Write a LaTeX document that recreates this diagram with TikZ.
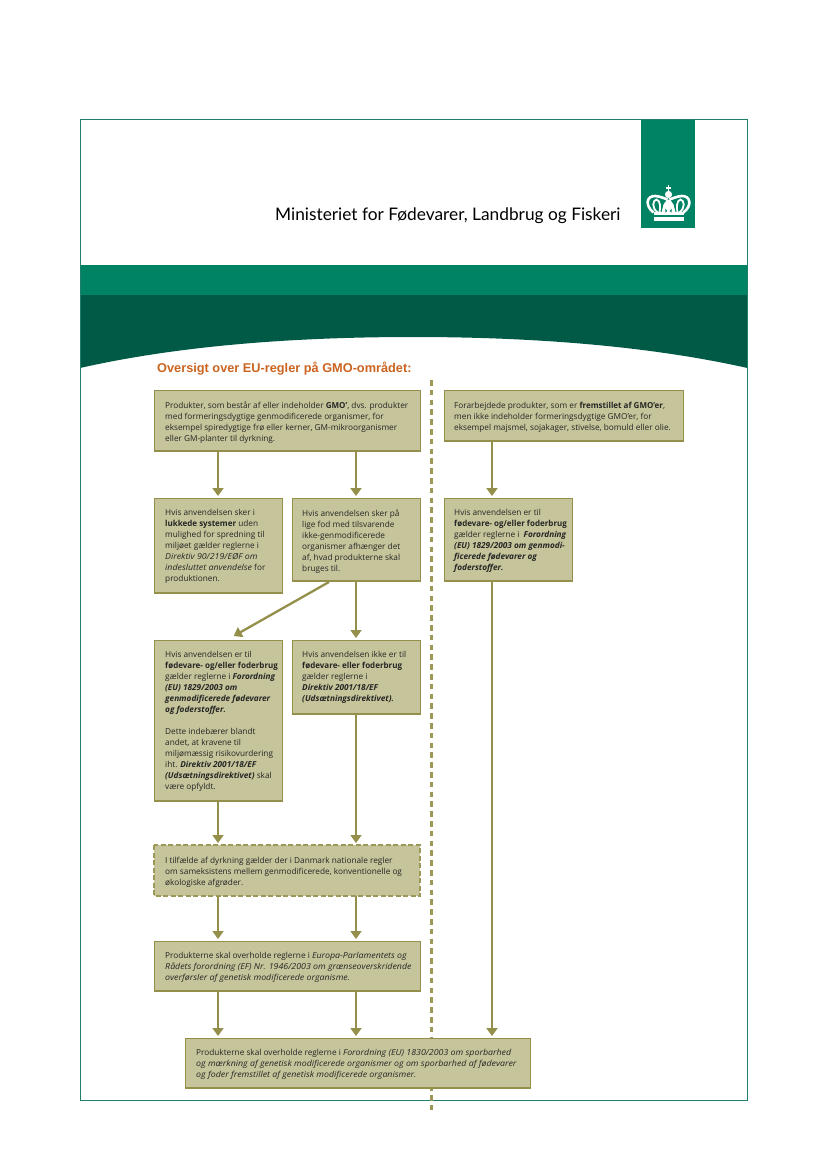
\documentclass[tikz,border=0pt]{standalone}
\usepackage{fontspec}
\setmainfont{Open Sans}[ItalicFeatures={FakeStretch=1.07},BoldFeatures={FakeStretch=0.97}]
\newfontfamily\logofont{Lato}
\newfontfamily\titlefont{Liberation Sans}
\usetikzlibrary{arrows.meta}
\definecolor{frameteal}{HTML}{1F7F6B}
\definecolor{bandgreen}{HTML}{008264}
\definecolor{darkgreen}{HTML}{005A46}
\definecolor{boxfill}{HTML}{C5C49A}
\definecolor{boxedge}{HTML}{948F4B}
\definecolor{dashedge}{HTML}{9C9858}
\definecolor{titleorange}{HTML}{CB6420}
\tikzset{x=1pt,y=-1pt,
 flow/.style={boxedge,line width=1.8pt,-{Triangle[length=8pt,width=11pt]},shorten >=2pt},
 flowthick/.style={flow,line width=2.3pt},
 boxtext/.style={anchor=north west,inner sep=0pt,align=left,font=\fontsize{8.25}{11}\selectfont,text=black!85},
}
\newcommand{\bx}[5]{% name x0 y0 x1 y1
 \fill[boxfill] (#2,#3) rectangle (#4,#5);
 \draw[boxedge,line width=.9pt] (#2,#5) -- (#2,#3) -- (#4,#3) -- (#4,#5);
 \draw[boxedge,line width=2.2pt] (#2-.4,#5-1) -- (#4+.4,#5-1);
 \coordinate (#1n) at ({(#2+#4)/2},#3);
 \coordinate (#1s) at ({(#2+#4)/2},#5);
}
\begin{document}
\begin{tikzpicture}
\useasboundingbox (0,0) rectangle (826,1169);
\fill[white] (0,0) rectangle (826,1169);
% bands
\fill[bandgreen] (80,265) rectangle (747.5,296);
\fill[darkgreen] (80,295) -- (747.5,295) -- (747.5,368) .. controls (640,344) and (520,337) .. (413,337) .. controls (306,337) and (186,344) .. (80,368) -- cycle;
\draw[frameteal,line width=1pt] (80,120) rectangle (747.5,1100.5);
% logo
\fill[bandgreen] (641,120) rectangle (695,228);
\begin{scope}[shift={(668.5,185.5)}]
 \fill[white] (-.9,0) rectangle (.9,7);
 \fill[white] (-2.8,2) rectangle (2.8,3.6);
 \fill[white] (0,9) circle (3.6);
 \fill[white] (-15,31) rectangle (15,35.5);
 \fill[white] (-15,26.5) rectangle (15,29);
 \foreach \s in {-1,1}{
  \draw[white,line width=2.6pt] (\s*15,27) .. controls (\s*24,20) and (\s*22,10) .. (\s*13,10.5) .. controls (\s*8,11) and (\s*4,13) .. (\s*1,14);
  \draw[white,line width=1.8pt] (\s*11,27) .. controls (\s*17,22) and (\s*16,15) .. (\s*12,14) .. controls (\s*8,15) and (\s*8,22) .. (\s*9,27);
  \fill[white] (\s*6,27) .. controls (\s*6,21) and (\s*3,17) .. (\s*1,15) -- (0,27) -- cycle;
 }
 \fill[white] (-7,27) -- (-5,19) -- (-1.5,14) -- (1.5,14) -- (5,19) -- (7,27) -- cycle;
 \fill[bandgreen] (-3.2,27) -- (-3.2,23) -- (-1.2,25.5) -- cycle;
 \fill[bandgreen] (3.2,27) -- (3.2,23) -- (1.2,25.5) -- cycle;
\end{scope}
\node[anchor=base west,inner sep=0pt,font=\logofont\fontsize{17.3}{20}\selectfont,text=black] (minist) at (275,220) {Ministeriet for Fødevarer, Landbrug og Fiskeri};
% title
\node[anchor=base west,inner sep=0pt,font=\titlefont\bfseries\fontsize{12.75}{14}\selectfont,text=titleorange] (title) at (157,372.5) {Oversigt over EU-regler på GMO-området:};
% divider
\coordinate (divtop) at (431.8,380);
\coordinate (divbot) at (431.8,1110);
\draw[dashedge,line width=2.7pt,dash pattern=on 5.6pt off 4.2pt] (divtop) -- (divbot);
% boxes
\bx{pa}{154}{390}{420}{452}
\bx{pb}{444}{390}{683}{442}
\bx{ba}{154}{498}{282}{594}
\bx{bb}{292}{498}{420}{582}
\bx{bc}{444}{498}{572}{582}
\bx{ca}{154}{640}{282}{802}
\bx{cb}{292}{640}{420}{715}
\fill[boxfill] (154,845) rectangle (420,896);
\draw[dashedge,line width=1.4pt,dash pattern=on 5pt off 2.5pt] (154,845) rectangle (420,896);
\coordinate (dan) at (287,845); \coordinate (das) at (287,896);
\bx{ea}{154}{941}{420}{992}
\bx{fa}{185}{1038}{530}{1089}
% column x
\coordinate (xa) at (218,0);
\coordinate (xb) at (356,0);
\coordinate (xc) at (492,0);
\coordinate (diagstart) at (329,582);
\coordinate (diagend) at (232,637);
% connectors
\draw[flowthick] (pas -| xa) -- (ban -| xa);
\draw[flowthick] (pas -| xb) -- (ban -| xb);
\draw[flowthick] (pbs -| xc) -- (bcn -| xc);
\draw[flowthick] (diagstart) -- (diagend);
\draw[flow] (bbs -| xb) -- (cbn -| xb);
\draw[flow] (cas -| xa) -- (dan -| xa);
\draw[flow] (cbs -| xb) -- (dan -| xb);
\draw[flow] (das -| xa) -- (ean -| xa);
\draw[flow] (das -| xb) -- (ean -| xb);
\draw[flow] (eas -| xa) -- (fan -| xa);
\draw[flow] (eas -| xb) -- (fan -| xb);
\draw[flowthick] (bcs -| xc) -- (fan -| xc);
% text
\node[boxtext] (tpa) at (165,401.5) {Produkter, som består af eller indeholder \textbf{GMO’}, dvs. produkter\\med formeringsdygtige genmodificerede organismer, for\\eksempel spiredygtige frø eller kerner, GM-mikroorganismer\\eller GM-planter til dyrkning.};
\node[boxtext] (tpb) at (454,401.5) {Forarbejdede produkter, som er \textbf{fremstillet af GMO’er},\\men ikke indeholder formeringsdygtige GMO’er, for\\eksempel majsmel, sojakager, stivelse, bomuld eller olie.};
\node[boxtext] (tba) at (165,509.5) {Hvis anvendelsen sker i\\\textbf{lukkede systemer} uden\\mulighed for spredning til\\miljøet gælder reglerne i\\\textit{Direktiv 90/219/EØF om}\\\textit{indesluttet anvendelse} for\\produktionen.};
\node[boxtext] (tbb) at (302,509.5) {Hvis anvendelsen sker på\\lige fod med tilsvarende\\ikke-genmodificerede\\organismer afhænger det\\af, hvad produkterne skal\\bruges til.};
\node[boxtext] (tbc) at (454,509.5) {Hvis anvendelsen er til\\\textbf{fødevare- og/eller foderbrug}\\gælder reglerne i \ \textbf{\textit{Forordning}}\\\textbf{\textit{(EU) 1829/2003 om genmodi-}}\\\textbf{\textit{ficerede fødevarer og}}\\\textbf{\textit{foderstoffer.}}};
\node[boxtext] (tca) at (165,651.5) {Hvis anvendelsen er til\\\textbf{fødevare- og/eller foderbrug}\\gælder reglerne i \textbf{\textit{Forordning}}\\\textbf{\textit{(EU) 1829/2003 om}}\\\textbf{\textit{genmodificerede fødevarer}}\\\textbf{\textit{og foderstoffer.}}\\[11pt]Dette indebærer blandt\\andet, at kravene til\\miljømæssig risikovurdering\\iht. \textbf{\textit{Direktiv 2001/18/EF}}\\\textbf{\textit{(Udsætningsdirektivet)}} skal\\være opfyldt.};
\node[boxtext] (tcb) at (302,651.5) {Hvis anvendelsen ikke er til\\\textbf{fødevare- eller foderbrug}\\gælder reglerne i\\\textbf{\textit{Direktiv 2001/18/EF}}\\\textbf{\textit{(Udsætningsdirektivet).}}};
\node[boxtext] (tda) at (165,856.5) {I tilfælde af dyrkning gælder der i Danmark nationale regler\\om sameksistens mellem genmodificerede, konventionelle og\\økologiske afgrøder.};
\node[boxtext] (tea) at (165,952.5) {Produkterne skal overholde reglerne i \textit{Europa-Parlamentets og}\\\textit{Rådets forordning (EF) Nr. 1946/2003 om grænseoverskridende}\\\textit{overførsler af genetisk modificerede organisme.}};
\node[boxtext] (tfa) at (196,1049.5) {Produkterne skal overholde reglerne i \textit{Forordning (EU) 1830/2003 om sporbarhed}\\\textit{og mærkning af genetisk modificerede organismer og om sporbarhed af fødevarer}\\\textit{og foder fremstillet af genetisk modificerede organismer.}};
\end{tikzpicture}
\end{document}
